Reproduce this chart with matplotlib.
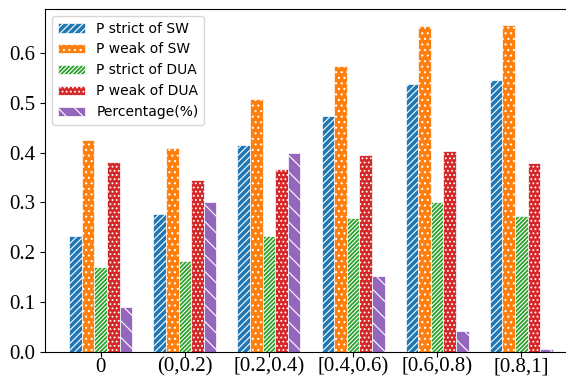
import matplotlib
matplotlib.use("Agg")
import matplotlib.pyplot as plt
import numpy as np

categories = ["0", "(0,0.2)", "[0.2,0.4)", "[0.4,0.6)", "[0.6,0.8)", "[0.8,1]"]
p_strict_sw = [0.233, 0.276, 0.415, 0.473, 0.537, 0.545]
p_weak_sw = [0.425, 0.410, 0.507, 0.573, 0.653, 0.655]
p_strict_dua = [0.170, 0.182, 0.233, 0.268, 0.301, 0.273]
p_weak_dua = [0.381, 0.344, 0.367, 0.395, 0.404, 0.379]
percentage = [0.091, 0.301, 0.399, 0.153, 0.042, 0.006]

series = [
    ("P strict of SW", p_strict_sw, "#1f77b4", "/////"),
    ("P weak of SW", p_weak_sw, "#ff7f0e", "..."),
    ("P strict of DUA", p_strict_dua, "#2ca02c", "////////"),
    ("P weak of DUA", p_weak_dua, "#d62728", "...."),
    ("Percentage(%)", percentage, "#9467bd", "\\\\"),
]

plt.rcParams["hatch.linewidth"] = 0.8
fig = plt.figure(figsize=(5.66, 3.76), dpi=100)
ax = fig.add_axes([45 / 566, 24 / 376, 532 / 566, 343 / 376])

x = np.arange(len(categories))
w = 0.15
for i, (name, vals, col, h) in enumerate(series):
    ax.bar(x + (i - 2) * w, vals, w, color=col, edgecolor="white",
           hatch=h, linewidth=0.5, label=name)

ax.set_xticks(x)
ax.set_xticklabels(categories, fontfamily="Liberation Serif", fontsize=15)
for lab in ax.get_yticklabels():
    lab.set_fontfamily("Liberation Serif")
    lab.set_fontsize(15)
ax.tick_params(axis="x", pad=0.5)
ax.legend(loc="upper left", fontsize=10)

fig.savefig("out.png", dpi=100)
